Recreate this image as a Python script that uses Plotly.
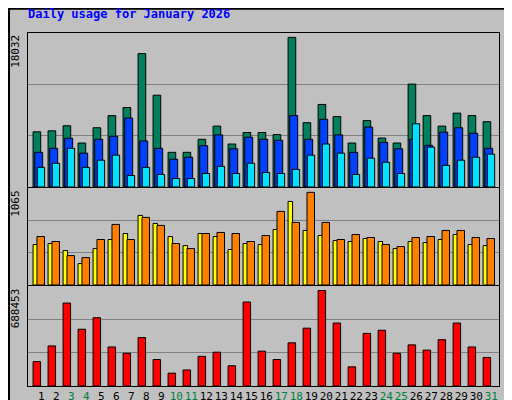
import plotly.graph_objects as go
from plotly.subplots import make_subplots

days = list(range(1, 32))
weekend = [3, 4, 10, 11, 17, 18, 24, 25, 31]

hits = [6650, 6770, 7380, 5300, 7140, 8600, 9580, 16080, 11060, 4180,
        4180, 5750, 7340, 5180, 6570, 6570, 6320, 18032, 7750, 9950,
        8490, 5300, 8000, 5900, 5300, 12400, 8610, 7340, 8900, 8610, 7870]
files = [4180, 4660, 5880, 4080, 5750, 6120, 8320, 5550, 4660, 3350,
         3590, 4980, 6280, 4610, 6000, 5750, 5630, 8610, 5750, 8160,
         6280, 4180, 7220, 5380, 4610, 5750, 5020, 6610, 7140, 6480, 4660]
pages = [2370, 2860, 4660, 2370, 3230, 3840, 1390, 2370, 1510, 1020,
         1020, 1630, 2490, 1630, 2860, 1750, 1630, 2120, 3840, 5180,
         4080, 1510, 3470, 2980, 1630, 7620, 4810, 2610, 3230, 3590, 3960]
visits = [465, 477, 396, 246, 419, 523, 592, 800, 708, 557,
          453, 592, 557, 408, 477, 465, 638, 961, 627, 569,
          511, 500, 534, 500, 419, 500, 488, 523, 580, 465, 453]
sites = [557, 500, 338, 315, 523, 696, 523, 777, 685, 477,
         419, 592, 604, 592, 500, 569, 846, 719, 1065, 719,
         523, 580, 546, 465, 442, 546, 557, 627, 627, 546, 534]
kbytes = [175900, 288900, 597900, 409400, 492300, 281300, 236200, 349300, 190900, 92500,
          115600, 213600, 243700, 145700, 605400, 251300, 190900, 311500, 417000, 688453,
          454000, 138200, 379400, 402000, 236200, 296400, 258700, 334100, 454000, 281300, 206000]

bg = '#C0C0C0'
mono = 'DejaVu Sans Mono'

fig = make_subplots(rows=3, cols=1, shared_xaxes=True)

def bars(y, color, offset, width, row):
    fig.add_trace(go.Bar(x=days, y=y, offset=offset, width=width,
                         marker=dict(color=color, line=dict(color='black', width=1))),
                  row=row, col=1)

bars(hits, '#00805C', -0.55, 0.51, 1)
bars(files, '#0040FF', -0.44, 0.53, 1)
bars(pages, '#00E0FF', -0.27, 0.49, 1)
bars(visits, '#FFFF00', -0.55, 0.3, 2)
bars(sites, '#FF8000', -0.29, 0.5, 2)
bars(kbytes, '#FF0000', -0.55, 0.5, 3)

ranges = [18560, 1115, 721000]
doms = [[0.5525, 0.9375], [0.3075, 0.55], [0.055, 0.305]]
for i in range(3):
    r = ranges[i]
    fig.update_yaxes(row=i + 1, col=1, range=[0, r], domain=doms[i], automargin=False,
                     tickvals=[r / 3, 2 * r / 3], showticklabels=False,
                     gridcolor='#808080', gridwidth=1, zeroline=False,
                     showline=True, linecolor='black', mirror=True, linewidth=1)
    fig.update_xaxes(row=i + 1, col=1, range=[0.11, 31.51], domain=[0.039, 0.959],
                     automargin=False, showgrid=False, showline=True, linecolor='black',
                     mirror=True, linewidth=1, zeroline=False, showticklabels=(i == 2))

ticktext = [f"<span style='color:#008040'>{d}</span>" if d in weekend else str(d) for d in days]
fig.update_xaxes(row=3, col=1, tickvals=days, ticktext=ticktext, ticks='', tickangle=0,
                 tickfont=dict(family=mono, size=11, color='black'))

annotations = [
    dict(x=0.035, y=0.985, xref='paper', yref='paper', text='<b>Daily usage for January 2026</b>',
         showarrow=False, xanchor='left', yanchor='middle',
         font=dict(family=mono, size=12, color='#0000FF')),
]
left_labels = [('18032', 0.9375), ('1065', 0.55), ('688453', 0.305)]
for txt, y in left_labels:
    annotations.append(dict(x=0.031, y=y, xref='paper', yref='paper', text=txt, textangle=-90,
                            showarrow=False, xanchor='right', yanchor='top',
                            font=dict(family=mono, size=11, color='black')))
right_labels = [
    ("<span style='color:#00E0FF'>Pages</span> / <span style='color:#0040FF'>Files</span> / "
     "<span style='color:#00805C'>Hits</span>", 0.745),
    ("<span style='color:#00C000'>kB Out</span> <span style='color:#FF8000'>Sites</span> / "
     "<span style='color:#FFFF00'>Visits</span>", 0.42),
    ("<span style='color:#FF0000'>kB F</span> / <span style='color:#0080FF'>kB In</span> / ", 0.16),
]
for txt, y in right_labels:
    annotations.append(dict(x=0.981, y=y, xref='paper', yref='paper', text=txt, textangle=-90,
                            showarrow=False, xanchor='center', yanchor='middle',
                            font=dict(family=mono, size=11, color='gray')))

fig.update_layout(
    width=512, height=400, margin=dict(l=0, r=0, t=0, b=0, pad=0),
    paper_bgcolor=bg, plot_bgcolor=bg, showlegend=False,
    barmode='overlay', annotations=annotations,
    shapes=[dict(type='rect', xref='paper', yref='paper', x0=0.002, y0=0.002, x1=0.998, y1=0.998,
                 line=dict(color='black', width=2))],
)

fig.write_html("out.html")
